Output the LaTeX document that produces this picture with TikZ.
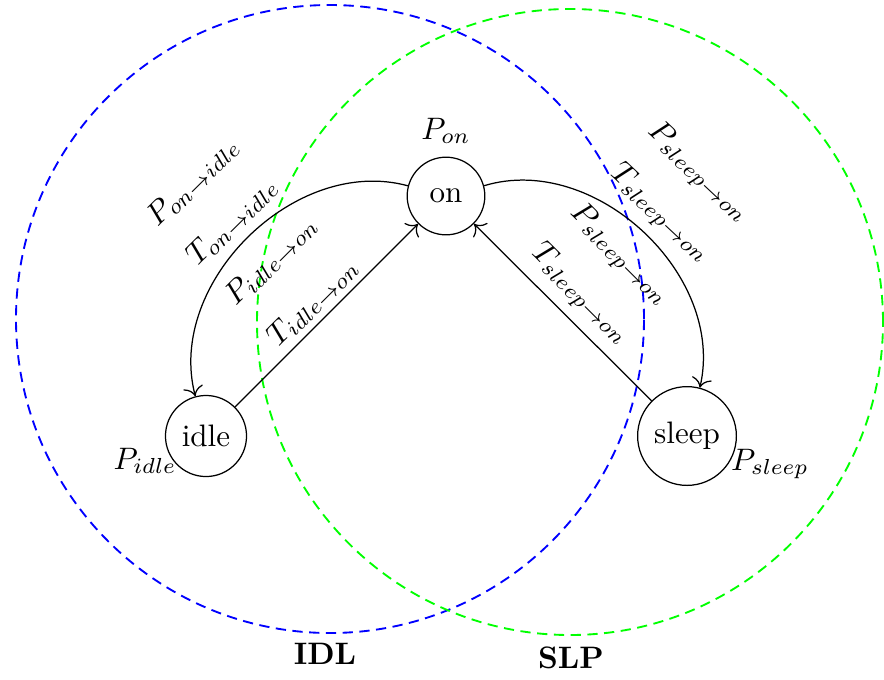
\documentclass[tikz,border=0pt]{standalone}
\usetikzlibrary{arrows.meta}
\begin{document}
\begin{tikzpicture}[x=0.322pt,y=0.322pt,
  state/.style={circle, draw, minimum size=25pt},
  lbl/.style={sloped, inner sep=0pt},
  zone/.style={dashed, dash pattern=on 3.3pt off 2.1pt, line width=0.6pt},
  >={To[scale=1.25]}]
\useasboundingbox (0,0) rectangle (884,679);
\draw[zone, blue] (330,360) circle (314);
\draw[zone, green] (570,357) circle (313);
\node[state] (on) at (446,483) {on};
\node[state] (idle) at (206,243) {idle};
\node[state] (sleep) at (687,243) {sleep};
\node (pon) at (446,548) {$P_{on}$};
\node (pidle) at (145,218) {$P_{idle}$};
\node (psleep) at (770,215) {$P_{sleep}$};
\node[font=\bfseries] (idl) at (325,25) {IDL};
\node[font=\bfseries] (slp) at (571,21) {SLP};
\draw[->] (on) to[bend right=60]
  node[lbl, pos=0.5, above=3pt] {$T_{on\rightarrow idle}$}
  node[lbl, pos=0.5, above=21pt] {$P_{on\rightarrow idle}$} (idle);
\draw[->] (on) to[bend left=60]
  node[lbl, pos=0.5, above=3pt] {$T_{sleep\rightarrow on}$}
  node[lbl, pos=0.5, above=21pt] {$P_{sleep\rightarrow on}$} (sleep);
\draw[->] (idle) --
  node[lbl, pos=0.5, above=2pt] {$T_{idle\rightarrow on}$}
  node[lbl, pos=0.5, above=21pt] {$P_{idle\rightarrow on}$} (on);
\draw[->] (sleep) --
  node[lbl, pos=0.5, above=3pt] {$T_{sleep\rightarrow on}$}
  node[lbl, pos=0.5, above=21pt] {$P_{sleep\rightarrow on}$} (on);
\end{tikzpicture}
\end{document}
